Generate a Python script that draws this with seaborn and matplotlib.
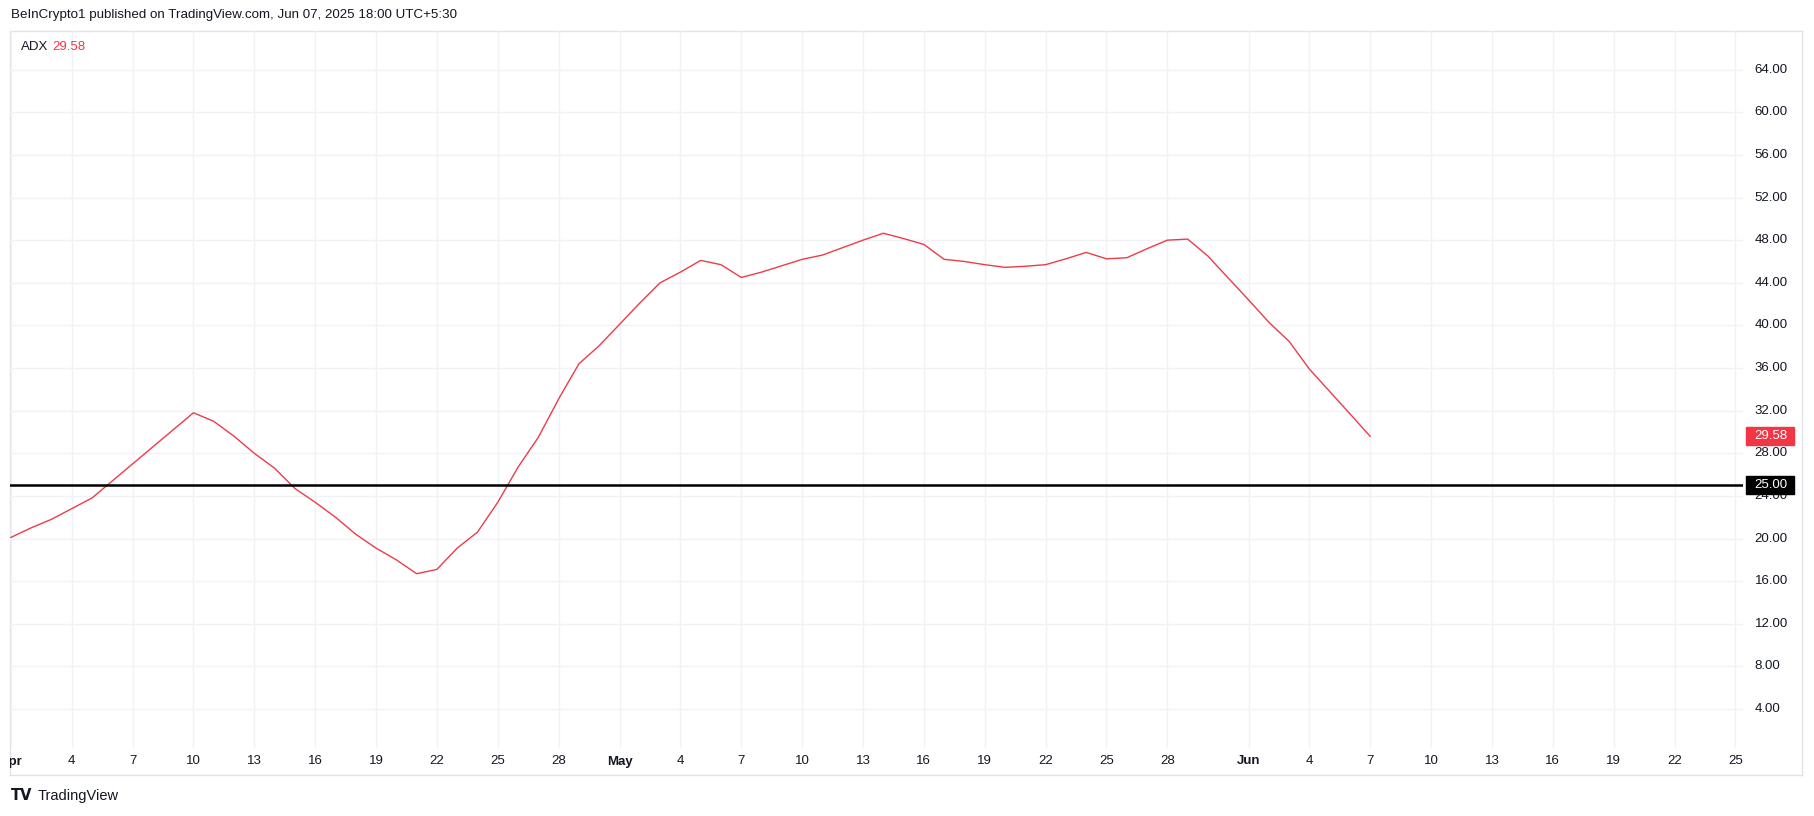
import pandas as pd
import matplotlib.pyplot as plt
import matplotlib.dates as mdates
import seaborn as sns

# Valeurs ADX journalières (1 avril -> 7 juin 2025)
start_date = '2025-04-01'
adx_values = [
    20.1, 21.0, 21.8, 22.8, 23.8, 25.4, 27.0, 28.6, 30.2, 31.8,   # 1-10 avr
    31.0, 29.6, 28.0, 26.6, 24.7, 23.4, 22.0, 20.4, 19.1, 18.0,   # 11-20 avr
    16.7, 17.1, 19.1, 20.6, 23.4, 26.7, 29.5, 33.1, 36.4, 38.1,   # 21-30 avr
    40.1, 42.1, 44.0, 45.0, 46.1, 45.7, 44.5, 45.0, 45.6, 46.2,   # 1-10 mai
    46.6, 47.3, 48.0, 48.65, 48.15, 47.6, 46.2, 46.0, 45.7, 45.45,  # 11-20 mai
    45.55, 45.7, 46.25, 46.85, 46.25, 46.35, 47.2, 48.0, 48.1, 46.5,  # 21-30 mai
    44.45, 42.4, 40.3, 38.5, 35.9, 33.8, 31.7, 29.58,             # 31 mai - 7 juin
]
dates = pd.date_range(start_date, periods=len(adx_values), freq='D')

threshold = 25.0
last_value = adx_values[-1]
price_ticks = list(range(4, 65, 4))

# Ticks de l'axe des dates (tous les 3 jours, plus les débuts de mois)
tick_dates = (
    [pd.Timestamp('2025-04-%02d' % d) for d in range(1, 29, 3)]
    + [pd.Timestamp('2025-05-%02d' % d) for d in range(1, 29, 3)]
    + [pd.Timestamp('2025-06-%02d' % d) for d in range(1, 26, 3)]
)
month_names = {4: 'Apr', 5: 'May', 6: 'Jun'}

title_text = 'BeInCrypto1 published on TradingView.com, Jun 07, 2025 18:00 UTC+5:30'

RED = '#F23645'
LINE_RED = '#EE3B4A'
GRID = '#F0F2F6'
TEXT = '#131722'

sns.set_theme(style='white')
plt.rcParams['font.family'] = ['Liberation Sans', 'DejaVu Sans']

W, H = 1814, 816
fig = plt.figure(figsize=(W / 100, H / 100), dpi=100)
fig.patch.set_facecolor('white')

def fr(x0, y0, x1, y1):
    # rectangle en pixels (origine en haut à gauche) -> coordonnées de figure
    return [x0 / W, (H - y1) / H, (x1 - x0) / W, (y1 - y0) / H]

# Cadre du panneau
frame = fig.add_axes(fr(10, 31, 1802, 775))
frame.set_xticks([])
frame.set_yticks([])
for s in frame.spines.values():
    s.set_color('#E0E3EB')
    s.set_linewidth(1)
frame.patch.set_alpha(0)

# Zone principale
ax = fig.add_axes(fr(10, 31, 1743, 748))
ax.patch.set_alpha(0)
xmin = mdates.date2num(pd.Timestamp(start_date)) - 0.04
xmax = mdates.date2num(pd.Timestamp(start_date)) + 85.37
ymin, ymax = 0.34, 67.63

for d in tick_dates:
    ax.axvline(d, color=GRID, lw=1, zorder=0)
for v in price_ticks:
    ax.axhline(v, color=GRID, lw=1, zorder=0)

sns.lineplot(x=dates, y=adx_values, ax=ax, color=LINE_RED, linewidth=1.0, zorder=3)
ax.axhline(threshold, color='black', lw=1.8, zorder=4)

ax.set_xlim(xmin, xmax)
ax.set_ylim(ymin, ymax)
ax.set_xticks([])
ax.set_yticks([])
ax.set_xlabel('')
ax.set_ylabel('')
for s in ax.spines.values():
    s.set_visible(False)

# Axe des dates
ax_date = fig.add_axes(fr(10, 748, 1743, 775))
ax_date.set_xlim(xmin, xmax)
ax_date.set_ylim(0, 1)
ax_date.axis('off')
for d in tick_dates:
    if d.day == 1:
        label, weight = month_names[d.month], 'bold'
    else:
        label, weight = str(d.day), 'normal'
    ax_date.text(mdates.date2num(d), 0.5, label, ha='center', va='center',
                 fontsize=9.5, color=TEXT, fontweight=weight, clip_on=True)

# Échelle de prix à droite
ax_price = fig.add_axes(fr(1743, 31, 1802, 748))
ax_price.set_xlim(0, 1)
ax_price.set_ylim(ymin, ymax)
ax_price.axis('off')
for v in price_ticks:
    ax_price.text(0.2, v, '%.2f' % v, ha='left', va='center', fontsize=9.5,
                  color=TEXT)

ax_price.axhspan(last_value - 0.85, last_value + 0.85, xmin=0.05, xmax=0.87,
                 color=RED, zorder=5)
ax_price.text(0.2, last_value, '%.2f' % last_value, ha='left', va='center',
              fontsize=9.5, color='white', zorder=6)
ax_price.axhspan(threshold - 0.85, threshold + 0.85, xmin=0.05, xmax=0.87,
                 color='black', zorder=5)
ax_price.text(0.2, threshold, '%.2f' % threshold, ha='left', va='center',
              fontsize=9.5, color='white', zorder=6)

# Textes
fig.text(11 / W, 1 - 15 / H, title_text, ha='left', va='center',
         fontsize=9.6, color=TEXT)
fig.text(21 / W, 1 - 47 / H, 'ADX', ha='left', va='center', fontsize=9.5, color=TEXT)
fig.text(52 / W, 1 - 47 / H, '%.2f' % last_value, ha='left', va='center',
         fontsize=9.5, color=RED)

# Logo TradingView
fig.text(11 / W, 1 - 796 / H, 'TV', ha='left', va='center', fontsize=10.5,
         fontweight='bold', color=TEXT, family=['DejaVu Sans'])
fig.text(38 / W, 1 - 796 / H, 'TradingView', ha='left', va='center',
         fontsize=10.5, color=TEXT)

plt.savefig('out.png', dpi=100)
